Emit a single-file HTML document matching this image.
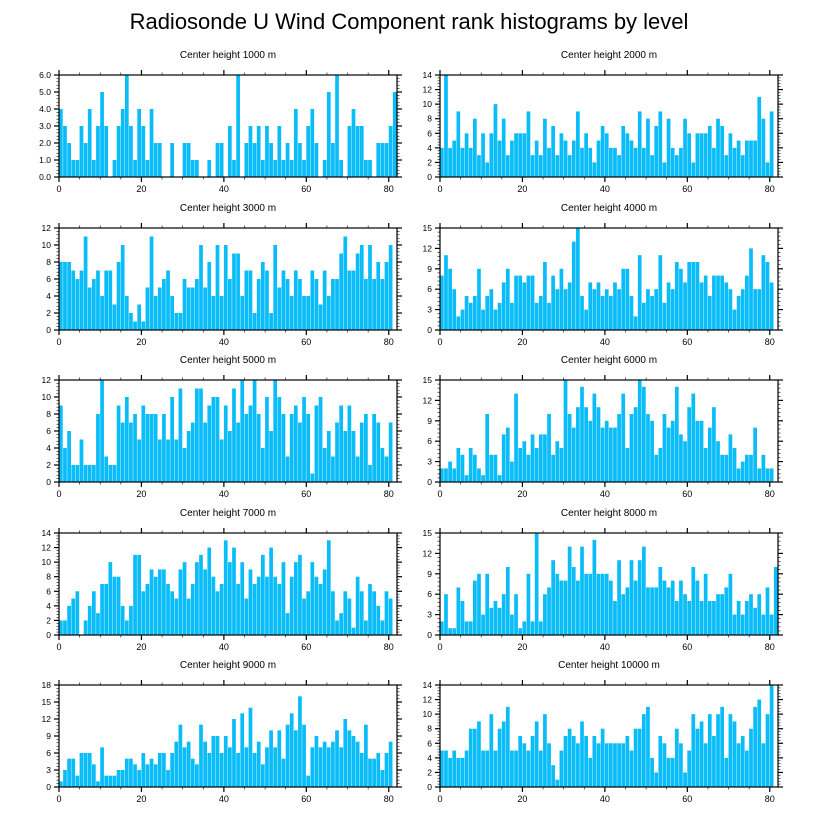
<!DOCTYPE html>
<html><head><meta charset="utf-8"><title>Radiosonde U Wind Component rank histograms by level</title>
<style>
html,body{margin:0;padding:0;background:#fff;}
svg{display:block;font-family:"Liberation Sans",Arial,sans-serif;}
</style></head>
<body>
<svg id="chart" width="818" height="824" viewBox="0 0 818 824" xmlns="http://www.w3.org/2000/svg">
<text x="409" y="29" text-anchor="middle" font-size="22" fill="#000">Radiosonde U Wind Component rank histograms by level</text>
</svg>
<script>
const panelTitles = ["Center height 1000 m","Center height 2000 m","Center height 3000 m","Center height 4000 m","Center height 5000 m","Center height 6000 m","Center height 7000 m","Center height 8000 m","Center height 9000 m","Center height 10000 m"];
const yMaxes = [6,14,12,15,12,15,14,15,18,14];
const ySteps = [1,2,2,3,2,3,2,3,3,2];
const xTicks = [0,20,40,60,80];
const h1000 = [4,3,2,1,1,3,2,4,1,3,5,3,0,1,3,4,6,3,1,4,3,1,4,2,2,0,0,2,0,0,2,2,1,1,0,0,1,0,2,2,0,3,1,6,0,2,3,2,3,1,3,2,1,3,1,2,1,4,2,1,3,4,2,0,1,5,2,6,1,0,3,4,3,3,1,1,0,2,2,2,3,5];
const h2000 = [4,14,4,5,9,4,6,4,8,3,6,2,6,10,5,8,3,5,6,6,6,9,3,5,3,8,4,7,3,6,5,3,5,9,4,6,4,2,5,7,6,4,4,3,7,6,5,4,9,4,8,3,7,9,2,8,4,3,4,8,6,2,6,6,6,7,4,8,7,3,6,4,5,3,5,5,5,11,8,2,9];
const h3000 = [8,8,8,7,6,7,11,5,6,7,4,7,7,3,8,10,4,2,1,3,1,5,11,4,5,6,7,4,2,2,6,5,5,6,10,5,8,4,10,4,10,6,9,9,4,7,7,2,6,8,7,2,10,5,7,6,4,7,6,4,4,7,6,3,7,4,6,6,9,11,7,7,9,10,6,10,6,8,6,8,10];
const h4000 = [8,11,9,6,2,3,5,4,5,9,3,5,6,3,4,7,9,4,8,8,7,8,8,4,5,10,4,8,6,9,6,7,13,15,5,3,7,6,7,5,6,5,7,6,9,9,5,2,11,4,6,5,6,11,4,7,6,10,9,7,10,10,10,7,8,5,8,8,8,7,6,3,5,6,8,12,6,6,11,10,7];
const h5000 = [9,4,6,2,2,5,2,2,2,8,12,3,2,2,9,7,10,7,8,5,9,8,8,8,5,8,5,10,5,11,4,6,7,11,11,7,9,10,10,5,9,6,11,7,12,8,9,12,8,4,10,6,12,10,8,3,8,9,7,10,8,1,9,10,4,6,3,7,9,6,9,6,3,7,8,2,8,7,4,3,7];
const h6000 = [2,2,3,2,5,4,1,5,4,2,1,10,4,4,1,7,8,3,13,5,6,4,7,5,7,7,10,4,6,5,15,10,8,11,14,11,9,13,11,8,9,8,8,10,13,5,10,11,15,14,10,9,4,5,10,8,9,14,7,6,11,13,9,9,5,8,11,6,4,4,7,5,2,3,4,4,8,2,4,2,2];
const h7000 = [2,2,4,5,6,0,2,4,6,3,7,7,10,8,8,4,2,4,11,11,6,7,9,8,9,9,7,6,5,9,10,5,7,10,11,9,12,8,6,7,13,10,12,7,10,5,9,7,8,11,8,12,8,7,10,3,8,10,11,5,6,10,8,7,9,13,6,2,3,6,5,1,8,6,2,7,6,4,2,6,5];
const h8000 = [2,6,1,1,7,5,2,2,8,9,3,9,4,5,4,6,10,3,6,1,2,9,2,15,2,6,7,11,9,8,8,13,10,8,13,9,9,14,9,9,9,8,5,11,6,7,11,8,11,13,7,7,7,10,8,7,8,5,8,6,5,10,8,5,9,5,5,6,6,7,9,3,5,3,5,6,4,6,3,7,3,10];
const h9000 = [1,3,5,5,2,6,6,6,4,1,7,2,2,2,3,3,5,5,4,3,6,4,5,4,6,6,3,6,8,11,7,8,5,4,11,8,6,9,9,6,9,7,12,6,13,7,14,6,8,4,7,10,7,10,5,11,13,10,16,11,2,7,9,7,8,7,8,10,7,12,10,9,8,6,11,5,5,6,3,6,8];
const h10000 = [5,5,4,5,4,4,5,8,8,9,5,5,10,5,8,9,11,5,5,7,6,5,7,9,5,10,6,3,1,5,7,8,7,6,9,7,4,7,6,8,6,6,6,6,6,7,5,8,8,10,11,4,2,7,6,4,4,8,6,2,5,10,8,9,6,10,7,10,11,4,10,9,6,7,5,8,11,12,6,10,14];
const series = [h1000,h2000,h3000,h4000,h5000,h6000,h7000,h8000,h9000,h10000];

const NS = "http://www.w3.org/2000/svg";
const svg = document.getElementById("chart");
const colLeft = [59, 440];
const plotW = 338;
const rowTop = [75, 228, 380, 533, 685];
const plotH = 102;
const xDomain = 82;

function mk(tag, attrs, parent){
  const e = document.createElementNS(NS, tag);
  for (const k in attrs) e.setAttribute(k, attrs[k]);
  parent.appendChild(e);
  return e;
}

for (let p = 0; p < 10; p++){
  const x0 = colLeft[p % 2], y0 = rowTop[Math.floor(p / 2)];
  const yMax = yMaxes[p], yStep = ySteps[p];
  const xs = v => x0 + v / xDomain * plotW;
  const ys = v => y0 + plotH - v / yMax * plotH;
  const g = mk("g", {}, svg);
  
  

  const t = mk("text", {x: x0 + plotW / 2, y: y0 - 17, "text-anchor": "middle", "font-size": "10", fill: "#000"}, g);
  t.textContent = panelTitles[p];
  
  

  const data = series[p];
  for (let i = 0; i < data.length; i++){
    if (data[i] <= 0) continue;
    const bx = xs(i), bw = xs(i + 1) - xs(i);
    const r = mk("rect", {x: bx.toFixed(2), y: ys(data[i]).toFixed(2), width: (bw - 0.4).toFixed(2), height: (ys(0) - ys(data[i])).toFixed(2), fill: "#0abdf9"}, g);
    
    
  }

  const f = mk("rect", {x: x0, y: y0, width: plotW, height: plotH, fill: "none", stroke: "#000", "stroke-width": "1.2"}, g);
  
  

  for (let v = 0; v <= 80; v += 5){
    const major = v % 20 === 0;
    const len = major ? 5 : 2.5;
    const X = xs(v);
    mk("line", {x1: X, x2: X, y1: y0, y2: y0 - len, stroke: "#000", "stroke-width": major ? 1.2 : 0.6}, g);
    mk("line", {x1: X, x2: X, y1: y0 + plotH, y2: y0 + plotH + len, stroke: "#000", "stroke-width": major ? 1.2 : 0.6}, g);
  }
  for (const v of xTicks){
    const lt = mk("text", {x: xs(v), y: y0 + plotH + 15, "text-anchor": "middle", "font-size": "9", fill: "#000"}, g);
    lt.textContent = v;
    
    
  }
  const minorN = 5;
  for (let k = 0; k <= yMax / yStep * minorN; k++){
    const v = k * yStep / minorN;
    const major = k % minorN === 0;
    const Y = ys(v), len = major ? 5 : 2.5;
    mk("line", {x1: x0, x2: x0 - len, y1: Y, y2: Y, stroke: "#000", "stroke-width": major ? 1.2 : 0.6}, g);
    mk("line", {x1: x0 + plotW, x2: x0 + plotW + len, y1: Y, y2: Y, stroke: "#000", "stroke-width": major ? 1.2 : 0.6}, g);
    if (major){
      const lt = mk("text", {x: x0 - 8, y: Y + 3, "text-anchor": "end", "font-size": "8.5", fill: "#000"}, g);
      lt.textContent = yMax <= 6 ? v.toFixed(1) : v;
      
      
    }
  }
}
</script>
</body></html>
